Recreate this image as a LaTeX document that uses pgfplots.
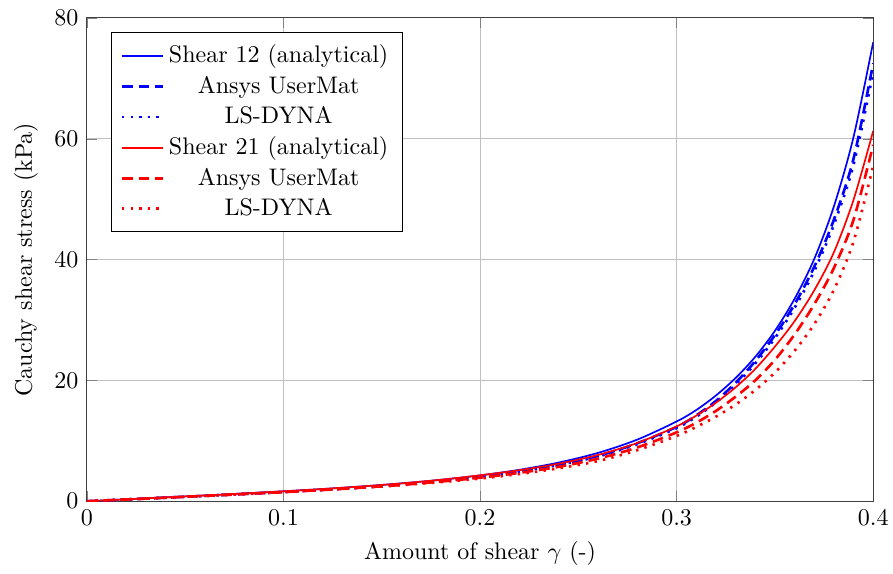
\documentclass[border=0pt]{standalone}
\usepackage{pgfplots}
\pgfplotsset{compat=1.18}
\begin{document}
\begin{tikzpicture}[trim right=11.81cm]
\begin{axis}[
  scale only axis,
  width=11.52cm, height=7.08cm,
  xmin=0, xmax=0.4, ymin=0, ymax=80,
  xtick={0,0.1,0.2,0.3,0.4},
  ytick={0,20,40,60,80},
  xticklabel style={/pgf/number format/fixed},
  grid=major,
  axis line style={black!75},
  xlabel={Amount of shear $\gamma$ (-)},
  ylabel={Cauchy shear stress (kPa)},
  legend pos=north west,
  legend cell align=center,
  legend style={inner xsep=4pt, inner ysep=3pt},
]
% Shear 12 analytical
\addplot[color=blue, solid, line width=0.7pt, smooth] coordinates {
(0,0) (0.02,0.316) (0.04,0.634) (0.06,0.956) (0.08,1.289) (0.10,1.641) (0.12,2.024) (0.14,2.455) (0.16,2.954) (0.18,3.55) (0.20,4.28) (0.22,5.2) (0.24,6.4) (0.26,8.0) (0.28,10.2) (0.30,13.2) (0.31,15.1) (0.32,17.5) (0.33,20.4) (0.34,23.9) (0.35,28.2) (0.36,33.5) (0.37,40.1) (0.38,48.8) (0.39,60.3) (0.40,76.0)
};
\addlegendentry{Shear 12 (analytical)}
\addplot[color=blue, line width=1.1pt, dash pattern=on 4.5pt off 2.5pt, smooth] coordinates {
(0,0) (0.02,0.29) (0.04,0.59) (0.06,0.89) (0.08,1.2) (0.10,1.53) (0.12,1.89) (0.14,2.29) (0.16,2.77) (0.18,3.35) (0.20,4.05) (0.22,4.95) (0.24,6.05) (0.26,7.5) (0.28,9.6) (0.30,12.3) (0.31,14.2) (0.32,16.6) (0.33,19.6) (0.34,23.2) (0.35,27.5) (0.36,32.6) (0.37,38.8) (0.38,46.6) (0.39,56.7) (0.40,72.5)
};
\addlegendentry{Ansys UserMat}
\addplot[color=blue, line width=1.1pt, dash pattern=on 1pt off 2.6pt, smooth] coordinates {
(0,0) (0.02,0.29) (0.04,0.58) (0.06,0.88) (0.08,1.19) (0.10,1.52) (0.12,1.88) (0.14,2.28) (0.16,2.75) (0.18,3.32) (0.20,4.0) (0.22,4.9) (0.24,6.0) (0.26,7.4) (0.28,9.45) (0.30,12.1) (0.31,14.0) (0.32,16.35) (0.33,19.3) (0.34,22.8) (0.35,27.0) (0.36,32.0) (0.37,38.1) (0.38,45.8) (0.39,55.7) (0.40,71.0)
};
\addlegendentry{LS-DYNA}
% Shear 21 analytical
\addplot[color=red, solid, line width=0.7pt, smooth] coordinates {
(0,0) (0.02,0.316) (0.04,0.634) (0.06,0.956) (0.08,1.289) (0.10,1.64) (0.12,2.02) (0.14,2.45) (0.16,2.95) (0.18,3.55) (0.20,4.29) (0.22,5.13) (0.24,6.21) (0.26,7.66) (0.28,9.64) (0.30,12.38) (0.31,14.17) (0.32,16.3) (0.33,18.85) (0.34,21.9) (0.35,25.6) (0.36,29.8) (0.37,34.9) (0.38,41.2) (0.39,49.9) (0.40,61.3)
};
\addlegendentry{Shear 21 (analytical)}
\addplot[color=red, line width=1.1pt, dash pattern=on 4.5pt off 2.5pt, smooth] coordinates {
(0,0) (0.02,0.29) (0.04,0.58) (0.06,0.88) (0.08,1.19) (0.10,1.51) (0.12,1.86) (0.14,2.25) (0.16,2.7) (0.18,3.25) (0.20,3.9) (0.22,4.7) (0.24,5.7) (0.26,7.05) (0.28,8.9) (0.30,11.4) (0.31,13.0) (0.32,14.95) (0.33,17.3) (0.34,20.0) (0.35,23.4) (0.36,27.6) (0.37,32.6) (0.38,38.6) (0.39,46.6) (0.40,59.0)
};
\addlegendentry{Ansys UserMat}
\addplot[color=red, line width=1.1pt, dash pattern=on 1pt off 2.6pt, smooth] coordinates {
(0,0) (0.02,0.28) (0.04,0.57) (0.06,0.87) (0.08,1.17) (0.10,1.49) (0.12,1.84) (0.14,2.22) (0.16,2.66) (0.18,3.17) (0.20,3.75) (0.22,4.5) (0.24,5.45) (0.26,6.65) (0.28,8.45) (0.30,10.8) (0.31,12.3) (0.32,14.0) (0.33,16.0) (0.34,18.4) (0.35,21.3) (0.36,24.9) (0.37,29.3) (0.38,35.0) (0.39,43.0) (0.40,55.5)
};
\addlegendentry{LS-DYNA}
\end{axis}
\path ([xshift=-2.5pt]current bounding box.west) ([yshift=7.5pt]current axis.north);
\end{tikzpicture}
\end{document}
